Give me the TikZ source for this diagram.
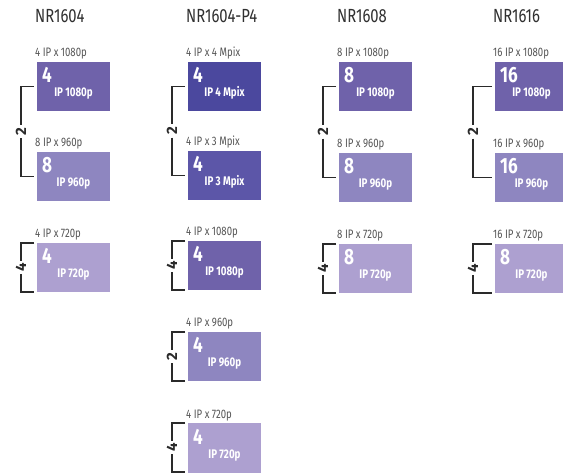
\documentclass[tikz,border=0pt]{standalone}
\usepackage{fontspec}
\setmainfont[FakeStretch=0.78]{Fira Sans}
\newfontfamily\brfont{Fira Sans}
\usetikzlibrary{calc}
\definecolor{cHD}{HTML}{6F62AA}
\definecolor{cNS}{HTML}{8E86C0}
\definecolor{cSS}{HTML}{ADA0D0}
\definecolor{cFM}{HTML}{4B489E}
\definecolor{cTM}{HTML}{5C56A8}
\definecolor{lbl}{HTML}{555555}
\definecolor{ttl}{HTML}{303030}
\definecolor{brk}{HTML}{2A2A2A}
\tikzset{
  box/.style={minimum width=73pt,minimum height=49pt,inner sep=0pt,outer sep=0pt},
  bignum/.style={text=white,inner sep=0pt,font=\fontsize{22}{22}\selectfont\bfseries},
  subtxt/.style={text=white,inner sep=0pt,font=\fontsize{12.5}{12.5}\selectfont\bfseries},
  lbltxt/.style={text=lbl,inner sep=0pt,font=\fontsize{12.3}{12.3}\selectfont},
  title/.style={text=ttl,inner sep=0pt,font=\fontsize{19}{19}\selectfont},
  brnum/.style={text=brk,rotate=90,inner sep=2.5pt,font=\brfont\fontsize{15}{15}\selectfont\bfseries},
  brline/.style={draw=brk,line width=1.1pt}
}
\newcommand{\mkbox}[7]{%
  \node[box,fill=#4,anchor=north west] (#1) at (#2,#3) {};
  \node[bignum,anchor=base west] (#1n) at ([xshift=5pt,yshift=-21pt]#1.north west) {#5};
  \node[subtxt,anchor=base] (#1s) at ([yshift=-35pt]#1.north) {#6};
  \node[lbltxt,anchor=base west] (#1l) at ([xshift=-2pt,yshift=5pt]#1.north west) {#7};
}
\newcommand{\brtwo}[4]{%
  \coordinate (#1ta) at ([xshift=-3pt]#2.west);
  \coordinate (#1ka) at ([xshift=-#4pt]#2.west);
  \coordinate (#1tb) at ([xshift=-3pt]#3.west);
  \coordinate (#1kb) at ([xshift=-#4pt]#3.west);
  \node[brnum] (#1d) at ($(#1ka)!0.5!(#1kb)$) {2};
  \draw[brline] (#1ta) -- (#1ka) -- (#1d.east);
  \draw[brline] (#1d.west) -- (#1kb) -- (#1tb);
}
\newcommand{\brone}[4]{%
  \coordinate (#1ta) at ([xshift=-3pt]#2.north west);
  \coordinate (#1ka) at ([xshift=-#4pt]#2.north west);
  \coordinate (#1tb) at ([xshift=-3pt]#2.south west);
  \coordinate (#1kb) at ([xshift=-#4pt]#2.south west);
  \node[brnum] (#1d) at ($(#1ka)!0.5!(#1kb)$) {#3};
  \draw[brline] (#1ta) -- (#1ka) -- (#1d.east);
  \draw[brline] (#1d.west) -- (#1kb) -- (#1tb);
}
\begin{document}
\begin{tikzpicture}[x=1pt,y=-1pt]
\useasboundingbox[fill=white] (0,0) rectangle (563,473);
% titles
\node[title,anchor=base west] (t1) at (35,23) {NR1604};
\node[title,anchor=base west] (t2) at (186,23) {NR1604-P4};
\node[title,anchor=base west] (t3) at (337,23) {NR1608};
\node[title,anchor=base west] (t4) at (493,23) {NR1616};
% column 1
\mkbox{aa}{37}{62}{cHD}{4}{IP 1080p}{4 IP x 1080p}
\mkbox{ab}{37}{152}{cNS}{8}{IP 960p}{8 IP x 960p}
\mkbox{ac}{37}{243}{cSS}{4}{IP 720p}{4 IP x 720p}
\brtwo{ra}{aa}{ab}{16}
\brone{rb}{ac}{4}{16}
% column 2
\mkbox{ba}{188}{62}{cFM}{4}{IP 4 Mpix}{4 IP x 4 Mpix}
\mkbox{bb}{188}{151}{cTM}{4}{IP 3 Mpix}{4 IP x 3 Mpix}
\mkbox{bc}{188}{241}{cHD}{4}{IP 1080p}{4 IP x 1080p}
\mkbox{bd}{188}{332}{cNS}{4}{IP 960p}{4 IP x 960p}
\node[box,fill=cSS,anchor=north west,minimum height=53pt] (be) at (188,423) {};
\node[bignum,anchor=base west] (ben) at ([xshift=5pt,yshift=-21pt]be.north west) {4};
\node[subtxt,anchor=base] (bes) at ([yshift=-35pt]be.north -| bd.north) {IP 720p};
\node[lbltxt,anchor=base west] (bel) at ([xshift=-2pt,yshift=5pt]be.north west) {4 IP x 720p};
\brtwo{rc}{ba}{bb}{16}
\brone{rd}{bc}{4}{16}
\brone{re}{bd}{2}{16}
\coordinate (rfta) at ([xshift=-3pt]be.north west);
\coordinate (rfka) at ([xshift=-16pt]be.north west);
\coordinate (rfkb) at ([xshift=-16pt,yshift=-49pt]be.north west);
\coordinate (rftb) at ([xshift=-3pt,yshift=-49pt]be.north west);
\node[brnum] (rfd) at ($(rfka)!0.5!(rfkb)$) {4};
\draw[brline] (rfta) -- (rfka) -- (rfd.east);
\draw[brline] (rfd.west) -- (rfkb) -- (rftb);
% column 3
\mkbox{ca}{339}{62}{cHD}{8}{IP 1080p}{8 IP x 1080p}
\mkbox{cb}{339}{153}{cNS}{8}{IP 960p}{8 IP x 960p}
\mkbox{cc}{339}{244}{cSS}{8}{IP 720p}{8 IP x 720p}
\brtwo{rg}{ca}{cb}{16}
\brone{rh}{cc}{4}{16}
% column 4
\mkbox{da}{495}{62}{cHD}{16}{IP 1080p}{16 IP x 1080p}
\mkbox{db}{495}{153}{cNS}{16}{IP 960p}{16 IP x 960p}
\mkbox{dc}{495}{244}{cSS}{8}{IP 720p}{16 IP x 720p}
\brtwo{ri}{da}{db}{22}
\brone{rj}{dc}{4}{22}
\end{tikzpicture}
\end{document}
